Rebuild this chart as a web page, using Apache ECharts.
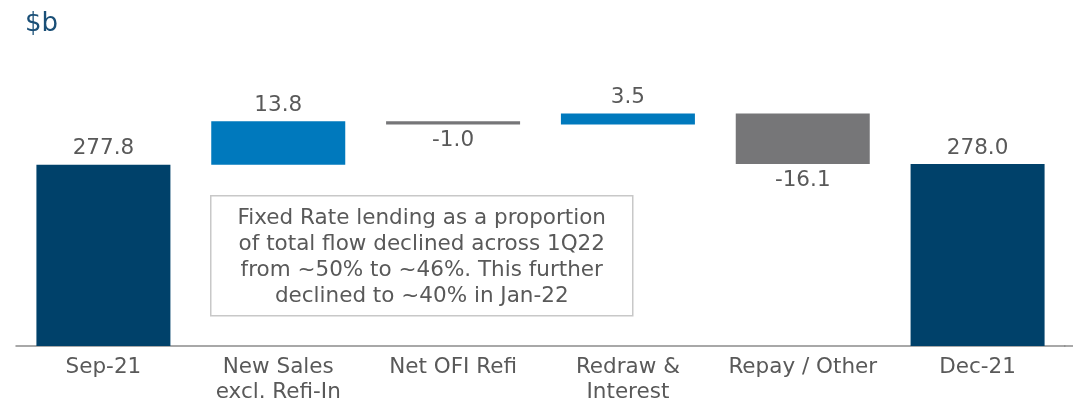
<!DOCTYPE html>
<html>
<head>
<meta charset="utf-8">
<script src="https://cdn.jsdelivr.net/npm/echarts@6/dist/echarts.min.js"></script>
<style>
  html, body { margin: 0; padding: 0; background: #fff; }
  #chart { width: 1073px; height: 405px; }
</style>
</head>
<body>
<div id="chart"></div>
<script>
// waterfall data
var categories = ['Sep-21', 'New Sales\nexcl. Refi-In', 'Net OFI Refi', 'Redraw &\nInterest', 'Repay / Other', 'Dec-21'];
var values = [277.8, 13.8, -1.0, 3.5, -16.1, 278.0];
var kinds = ['total', 'change', 'change', 'change', 'change', 'total'];
var note = 'Fixed Rate lending as a proportion\nof total flow declined across 1Q22\nfrom ~50% to ~46%. This further\ndeclined to ~40% in Jan-22';

var navy = '#00416a';
var blue = '#0079bd';
var grey = '#767678';
var textGrey = '#595959';
var font = 'DejaVu Sans';
var fs = 21.5;

// build invisible base + visible part
var base = [];
var shown = [];
var running = 0;
for (var i = 0; i < values.length; i++) {
  var v = values[i];
  var color, pos;
  if (kinds[i] === 'total') {
    base.push(0);
    running = v;
    shown.push({ value: v, itemStyle: { color: navy }, label: { position: 'top' } });
    continue;
  }
  if (v >= 0) {
    base.push(running);
    color = blue;
    pos = 'top';
  } else {
    base.push(running + v);
    color = grey;
    pos = 'bottom';
  }
  running += v;
  shown.push({ value: Math.abs(v), itemStyle: { color: color }, label: { position: pos } });
}

var myChart = echarts.init(document.getElementById('chart'));
myChart.setOption({
  animation: false,
  textStyle: { fontFamily: font },
  title: {
    text: '$b',
    left: 20,
    top: 6,
    textStyle: { fontFamily: font, fontSize: 26, fontWeight: 'normal', color: '#1a4f77' }
  },
  grid: { left: 16, right: 8, top: 95, bottom: 59, outerBoundsMode: 'none', containLabel: false },
  xAxis: {
    type: 'category',
    data: categories,
    axisTick: { show: false },
    axisLine: { lineStyle: { color: '#8c8c8c', width: 1.5 } },
    axisLabel: {
      interval: 0,
      margin: 9,
      fontSize: fs,
      lineHeight: 25,
      color: textGrey,
      fontFamily: font
    }
  },
  yAxis: {
    type: 'value',
    min: 220,
    max: 300,
    show: false,
    splitLine: { show: false }
  },
  series: [
    {
      type: 'bar',
      stack: 'wf',
      data: base,
      barWidth: 134,
      itemStyle: { color: 'transparent' },
      silent: true
    },
    {
      type: 'bar',
      stack: 'wf',
      data: shown,
      barWidth: 134,
      label: {
        show: true,
        distance: 5,
        fontSize: fs,
        color: textGrey,
        fontFamily: font,
        formatter: function (p) { return values[p.dataIndex].toFixed(1); }
      }
    }
  ],
  graphic: [
    {
      type: 'group',
      left: 210,
      top: 195,
      children: [
        {
          type: 'rect',
          shape: { x: 0, y: 0, width: 422, height: 120 },
          style: { fill: '#fff', stroke: '#c8c8c8', lineWidth: 1.5 }
        },
        {
          type: 'text',
          x: 211,
          y: 62,
          style: {
            text: note,
            align: 'center',
            verticalAlign: 'middle',
            fontSize: fs,
            lineHeight: 26,
            fill: textGrey,
            fontFamily: font
          }
        }
      ]
    },
    {
      // axis line continues to the right edge in the original
      type: 'line',
      shape: { x1: 1064, y1: 346, x2: 1073, y2: 346 },
      style: { stroke: '#8c8c8c', lineWidth: 1.5 }
    }
  ]
});
</script>
</body>
</html>
